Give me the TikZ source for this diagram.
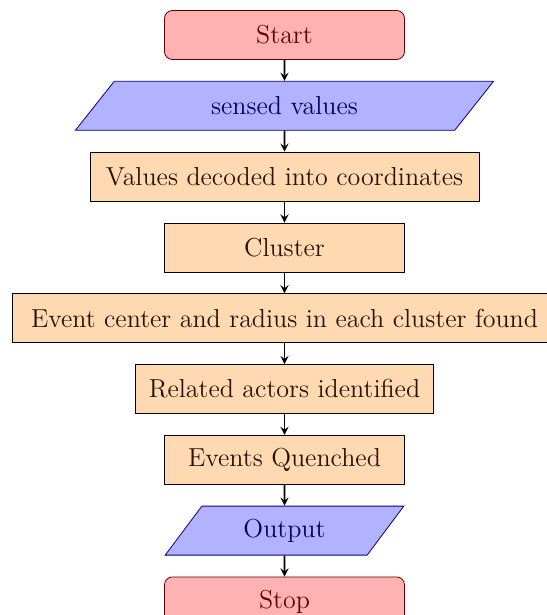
\documentclass[tikz,border=0pt]{standalone}
\usetikzlibrary{shapes.geometric,arrows,positioning}
\tikzset{
	startstop/.style={rectangle, rounded corners, minimum width=120pt, minimum height=24.5pt, draw=red!40!black, fill=red!30, text=red!40!black},
	io/.style={trapezium, trapezium left angle=60, trapezium right angle=120, trapezium stretches=true, minimum height=24.5pt, draw=blue!50!black, fill=blue!30, text=blue!40!black},
	process/.style={rectangle, minimum height=24.5pt, draw=black, fill=orange!30, text=black!85!orange},
	arrow/.style={thick,->,>=stealth}
}
\begin{document}
\begin{tikzpicture}[node distance=10.5pt, font=\fontsize{13}{15}\selectfont]
			\useasboundingbox (-142.25pt,17.5pt) rectangle (130.75pt,-290pt);
			\node (start) [startstop] at (0,0) {Start};
			\node (sensed) [io, minimum width=210.5pt, below=of start] {sensed values};
			\node (decode) [process, minimum width=194.5pt, below=of sensed] {Values decoded into coordinates};
			\node (cluster) [process, minimum width=120pt, below=of decode] {Cluster};
			\node (center) [process, minimum width=272pt, below=of cluster] {Event center and radius in each cluster found};
			\node (actors) [process, minimum width=149pt, below=of center] {Related actors identified};
			\node (quench) [process, minimum width=120pt, below=of actors] {Events Quenched};
			\node (output) [io, minimum width=119.5pt, below=of quench] {Output};
			\node (stop) [startstop, below=of output] {Stop};
			\draw [arrow] (start) -- (sensed);
			\draw [arrow] (sensed) -- (decode);
			\draw [arrow] (decode) -- (cluster);
			\draw [arrow] (cluster) -- (center);
			\draw [arrow] (center) -- (actors);
			\draw [arrow] (actors) -- (quench);
			\draw [arrow] (quench) -- (output);
			\draw [arrow] (output) -- (stop);
		\end{tikzpicture}
\end{document}
